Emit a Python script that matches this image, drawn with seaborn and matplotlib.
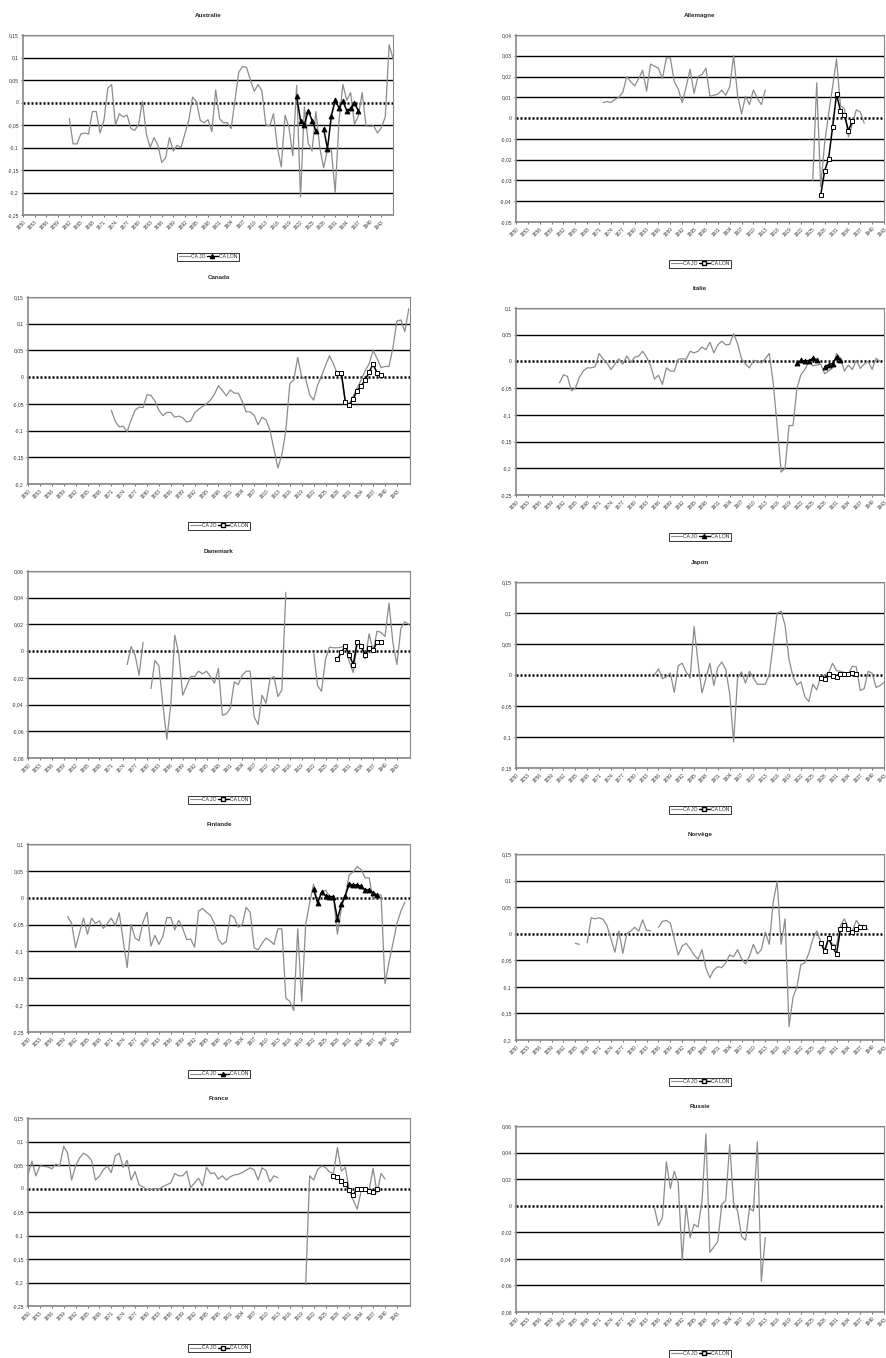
import numpy as np
import pandas as pd
import matplotlib
matplotlib.use("Agg")
import matplotlib.pyplot as plt
import seaborn as sns
from matplotlib.lines import Line2D

N = None

# ---- données (CA JO / CA LON), valeur par année à partir de l'année de départ ----
aus_jo_start = 1862
aus_jo = [-0.035, -0.092, -0.092, -0.07, -0.068, -0.07, -0.02, -0.02, -0.068, -0.04,
          0.032, 0.04, -0.05, -0.025, -0.032, -0.028, -0.058, -0.062, -0.048, 0.003,
          -0.07, -0.1, -0.078, -0.095, -0.133, -0.123, -0.078, -0.108, -0.095, -0.1,
          -0.07, -0.04, 0.012, 0.002, -0.04, -0.045, -0.038, -0.065, 0.028, -0.036,
          -0.045, -0.045, -0.058, 0.005, 0.068, 0.08, 0.078, 0.05, 0.025, 0.04,
          0.025, -0.05, -0.052, -0.025, -0.1, -0.143, -0.028, -0.055, -0.118, 0.038,
          -0.21, -0.01, -0.09, -0.108, -0.02, -0.1, -0.145, -0.105, -0.105, -0.2,
          -0.04, 0.04, 0.005, 0.022, -0.048, -0.03, 0.022, -0.052, -0.053, -0.052,
          -0.068, -0.055, -0.032, 0.128, 0.098]
aus_lon_start = 1921
aus_lon = [0.015, -0.04, -0.05, -0.018, -0.04, -0.063, N, -0.058, -0.103, -0.03,
           0.005, -0.012, 0.003, -0.018, -0.013, -0.002, -0.018]

all_jo_start = 1872
all_jo = [0.0075, 0.008, 0.0075, 0.009, 0.01, 0.0125, 0.02, 0.0175, 0.0155, 0.019,
          0.023, 0.013, 0.026, 0.025, 0.024, 0.019, 0.029, 0.029, 0.0175, 0.014,
          0.0075, 0.015, 0.0235, 0.012, 0.02, 0.021, 0.024, 0.0105, 0.011, 0.0115,
          0.0135, 0.011, 0.015, 0.03, 0.011, 0.002, 0.0105, 0.0065, 0.0135, 0.0095,
          0.0065, 0.0135, N, N, N, N, N, N, N, N, N, N, N,
          -0.03, 0.017, -0.033, -0.012, 0.002, 0.015, 0.0285, 0.006, 0.0045, -0.009,
          -0.003, 0.004, 0.003, -0.0025]
all_lon_start = 1927
all_lon = [-0.037, -0.0255, -0.0195, -0.0045, 0.0115, 0.0035, 0.0015, -0.006, -0.0015]

can_jo_start = 1871
can_jo = [-0.062, -0.083, -0.093, -0.092, -0.102, -0.08, -0.062, -0.056, -0.057, -0.033,
          -0.034, -0.045, -0.062, -0.072, -0.066, -0.066, -0.075, -0.073, -0.076, -0.084,
          -0.082, -0.067, -0.06, -0.055, -0.05, -0.043, -0.032, -0.016, -0.025, -0.035,
          -0.024, -0.03, -0.03, -0.045, -0.065, -0.065, -0.071, -0.089, -0.075, -0.08,
          -0.1, -0.135, -0.17, -0.145, -0.1, -0.012, -0.005, 0.037, 0.0, -0.003,
          -0.033, -0.043, -0.015, 0.002, 0.022, 0.04, 0.025, 0.005, 0.003, -0.045,
          -0.05, -0.035, -0.02, -0.005, 0.012, 0.025, 0.05, 0.035, 0.018, 0.02,
          0.02, 0.055, 0.105, 0.107, 0.085, 0.128]
can_lon_start = 1928
can_lon = [0.008, 0.008, -0.047, -0.053, -0.04, -0.025, -0.016, -0.006, 0.01, 0.024,
           0.008, 0.004]

ita_jo_start = 1861
ita_jo = [-0.04, -0.025, -0.028, -0.055, -0.05, -0.03, -0.018, -0.012, -0.012, -0.01,
          0.015, 0.005, -0.003, -0.015, -0.005, 0.005, -0.005, 0.01, -0.002, 0.008,
          0.01, 0.019, 0.008, -0.008, -0.033, -0.026, -0.043, -0.012, -0.018, -0.018,
          0.004, 0.005, 0.004, 0.019, 0.016, 0.019, 0.027, 0.022, 0.036, 0.016,
          0.031, 0.038, 0.031, 0.032, 0.052, 0.033, 0.005, -0.005, -0.012, 0.002,
          0.001, -0.003, 0.005, 0.015, -0.04, -0.12, -0.207, -0.2, -0.12, -0.12,
          -0.05, -0.025, -0.015, 0.0, -0.008, -0.007, -0.005, -0.023, -0.018, -0.012,
          0.015, 0.005, -0.018, -0.007, -0.015, 0.002, -0.013, -0.005, 0.0, -0.015,
          0.006, 0.0]
ita_lon_start = 1921
ita_lon = [-0.003, 0.002, 0.001, 0.001, 0.006, 0.003, N, -0.01, -0.006, -0.004,
           0.008, 0.003]

dan_jo_start = 1875
dan_jo = [-0.01, 0.0035, -0.003, -0.018, 0.0065, N,
          -0.028, -0.007, -0.011, -0.04, -0.066, -0.04, 0.012, -0.002, -0.033, -0.026,
          -0.019, -0.019, -0.015, -0.017, -0.015, -0.019, -0.024, -0.013, -0.048, -0.047,
          -0.043, -0.023, -0.025, -0.018, -0.015, -0.015, -0.049, -0.055, -0.033, -0.039,
          -0.021, -0.019, -0.034, -0.029, 0.044, N, N, N, N, N, N,
          -0.001, -0.026, -0.03, -0.006, 0.003, 0.0025, 0.0025, 0.003, 0.004, -0.008,
          -0.016, 0.006, 0.004, -0.006, 0.013, 0.0, 0.015, 0.014, 0.011, 0.036,
          0.006, -0.01, 0.017, 0.022, 0.02]
dan_lon_start = 1928
dan_lon = [-0.006, -0.001, 0.004, -0.003, -0.01, 0.007, 0.004, -0.003, 0.002, 0.0005,
           0.007, 0.0065]

jap_jo_start = 1885
jap_jo = [0.0, 0.01, -0.006, -0.003, 0.003, -0.028, 0.015, 0.019, 0.005, -0.005,
          0.078, 0.02, -0.029, -0.005, 0.019, -0.017, 0.012, 0.021, 0.009, -0.03,
          -0.108, -0.005, 0.005, -0.013, 0.006, -0.005, -0.015, -0.015, -0.015, 0.0,
          0.05, 0.1, 0.103, 0.08, 0.025, -0.003, -0.016, -0.011, -0.035, -0.043,
          -0.015, -0.024, -0.003, 0.0, 0.003, 0.019, 0.007, 0.006, 0.004, 0.002,
          0.014, 0.013, -0.025, -0.022, 0.006, 0.003, -0.02, -0.017, -0.012]
jap_lon_start = 1927
jap_lon = [-0.005, -0.006, 0.001, -0.001, -0.003, 0.002, 0.001, 0.001, 0.004, 0.002]

fin_jo_start = 1860
fin_jo = [-0.035, -0.048, -0.093, -0.065, -0.038, -0.068, -0.038, -0.048, -0.043, -0.057,
          -0.048, -0.038, -0.052, -0.028, -0.08, -0.13, -0.05, -0.075, -0.08, -0.045,
          -0.027, -0.09, -0.07, -0.087, -0.072, -0.037, -0.037, -0.06, -0.042, -0.057,
          -0.078, -0.077, -0.092, -0.025, -0.02, -0.027, -0.033, -0.048, -0.078, -0.087,
          -0.081, -0.032, -0.037, -0.055, -0.05, -0.018, -0.027, -0.093, -0.097, -0.085,
          -0.075, -0.08, -0.087, -0.058, -0.058, -0.187, -0.193, -0.21, -0.058, -0.193,
          -0.05, -0.01, 0.025, -0.008, 0.01, 0.014, 0.003, 0.0, -0.068, -0.02,
          0.005, 0.043, 0.048, 0.058, 0.052, 0.037, 0.037, -0.003, 0.005, 0.005,
          -0.16, -0.12, -0.085, -0.048, -0.025, -0.008]
fin_lon_start = 1922
fin_lon = [0.016, -0.01, 0.01, 0.004, 0.002, 0.002, -0.04, -0.012, 0.004, 0.026,
           0.023, 0.024, 0.021, 0.014, 0.015, 0.009, 0.005]

nor_jo_start = 1865
nor_jo = [-0.018, -0.02, N, -0.017, 0.03, 0.028, 0.03, 0.027, 0.015, -0.01,
          -0.035, 0.005, -0.037, 0.0, 0.005, 0.012, 0.005, 0.026, 0.006, 0.006,
          N, 0.012, 0.023, 0.025, 0.02, -0.01, -0.04, -0.023, -0.018, -0.028,
          -0.04, -0.048, -0.03, -0.065, -0.083, -0.068, -0.062, -0.064, -0.055, -0.04,
          -0.043, -0.03, -0.047, -0.057, -0.042, -0.02, -0.038, -0.03, 0.003, -0.02,
          0.06, 0.098, -0.02, 0.028, -0.175, -0.12, -0.1, -0.058, -0.055, -0.037,
          -0.01, 0.005, -0.015, -0.03, -0.01, -0.02, -0.022, 0.015, 0.028, 0.01,
          0.005, 0.025, 0.015, 0.012, 0.008]
nor_lon_start = 1927
nor_lon = [-0.017, -0.033, -0.008, -0.025, -0.038, 0.009, 0.017, 0.009, 0.003, 0.008,
           0.013, 0.012]

fra_jo_start = 1850
fra_jo = [0.03, 0.058, 0.027, 0.048, 0.047, 0.046, 0.042, 0.052, 0.048, 0.09,
          0.075, 0.018, 0.048, 0.065, 0.075, 0.07, 0.06, 0.018, 0.026, 0.04,
          0.048, 0.034, 0.07, 0.075, 0.045, 0.06, 0.018, 0.036, 0.008, 0.003,
          -0.002, -0.002, 0.0, -0.002, 0.004, 0.008, 0.012, 0.032, 0.027, 0.027,
          0.037, 0.002, 0.012, 0.022, 0.005, 0.045, 0.032, 0.033, 0.02, 0.027,
          0.018, 0.025, 0.029, 0.03, 0.034, 0.039, 0.044, 0.04, 0.018, 0.044,
          0.038, 0.014, 0.027, 0.023, N, N, N, N, N, N,
          -0.205, 0.027, 0.018, 0.04, 0.048, 0.045, 0.035, 0.032, 0.087, 0.037,
          0.045, -0.005, -0.025, -0.044, -0.005, -0.002, -0.003, 0.043, -0.01, 0.032,
          0.02]
fra_lon_start = 1927
fra_lon = [0.026, 0.025, 0.016, 0.01, -0.004, -0.014, 0.0, -0.001, -0.002, -0.005,
           -0.008, 0.0]

rus_jo_start = 1885
rus_jo = [-0.002, -0.015, -0.009, 0.033, 0.013, 0.026, 0.017, -0.041, 0.0, -0.024,
          -0.014, -0.016, 0.003, 0.054, -0.035, -0.031, -0.027, 0.001, 0.004, 0.046,
          0.002, -0.004, -0.023, -0.026, -0.002, -0.004, 0.048, -0.057, -0.024]
rus_lon_start = 1927
rus_lon = []


def to_frame(start, values):
    df = pd.DataFrame({"year": np.arange(start, start + len(values)),
                       "value": pd.Series(values, dtype="float")})
    df["seg"] = df["value"].isna().cumsum()
    return df.dropna()


def fmt(v):
    s = ("%.2f" % v).rstrip("0").rstrip(".")
    if s in ("-0", "0"):
        return "0"
    return s.replace(".", ",")


# panneaux : (titre, JO, LON, marqueur, ymin, ymax, pas, rect en pixels, xmax)
panels = [
    ("Australie", (aus_jo_start, aus_jo), (aus_lon_start, aus_lon), "^", -0.25, 0.15, 0.05, (23, 35, 393, 215), 1946),
    ("Allemagne", (all_jo_start, all_jo), (all_lon_start, all_lon), "s", -0.05, 0.04, 0.01, (516, 35, 884, 222), 1943),
    ("Canada", (can_jo_start, can_jo), (can_lon_start, can_lon), "s", -0.2, 0.15, 0.05, (28, 297, 410, 484), 1946.3),
    ("Italie", (ita_jo_start, ita_jo), (ita_lon_start, ita_lon), "^", -0.25, 0.1, 0.05, (516, 308, 884, 495), 1943),
    ("Danemark", (dan_jo_start, dan_jo), (dan_lon_start, dan_lon), "s", -0.08, 0.06, 0.02, (28, 571, 410, 758), 1946.3),
    ("Japon", (jap_jo_start, jap_jo), (jap_lon_start, jap_lon), "s", -0.15, 0.15, 0.05, (516, 582, 884, 768), 1943),
    ("Finlande", (fin_jo_start, fin_jo), (fin_lon_start, fin_lon), "^", -0.25, 0.1, 0.05, (28, 844, 410, 1032), 1946.3),
    ("Norvège", (nor_jo_start, nor_jo), (nor_lon_start, nor_lon), "s", -0.2, 0.15, 0.05, (516, 854, 884, 1040), 1943),
    ("France", (fra_jo_start, fra_jo), (fra_lon_start, fra_lon), "s", -0.25, 0.15, 0.05, (28, 1118, 410, 1306), 1946.3),
    ("Russie", (rus_jo_start, rus_jo), (rus_lon_start, rus_lon), "s", -0.08, 0.06, 0.02, (516, 1126, 884, 1312), 1943),
]

sns.set_style("white")
plt.rcParams['font.family'] = ['Liberation Sans', 'DejaVu Sans']

W, H = 887, 1358
fig = plt.figure(figsize=(W / 100, H / 100), dpi=100)

for title, jo, lon, mk, ymin, ymax, step, (x0, y0, x1, y1), xmax in panels:
    ax = fig.add_axes([x0 / W, 1 - y1 / H, (x1 - x0) / W, (y1 - y0) / H])
    yt = np.round(np.arange(ymin, ymax + step / 2, step), 3)
    for v in yt:
        if abs(v) > 1e-9:
            ax.axhline(v, color="black", lw=1.0, zorder=1)
    ax.axhline(0, color="black", lw=1.8, ls=(0, (0.8, 0.8)), zorder=1)

    df_jo = to_frame(*jo)
    sns.lineplot(data=df_jo, x="year", y="value", units="seg", estimator=None,
                 color="#8c8c8c", lw=0.9, ax=ax, zorder=3)
    if len(lon[1]):
        df_lon = to_frame(*lon)
        sns.lineplot(data=df_lon, x="year", y="value", units="seg", estimator=None,
                     color="black", lw=1.1, marker=mk, markersize=3.5,
                     markerfacecolor="black" if mk == "^" else "white",
                     markeredgecolor="black", markeredgewidth=0.7, ax=ax, zorder=4)

    ax.set_xlim(1850, xmax)
    ax.set_ylim(ymin, ymax)
    ax.set_yticks(yt)
    ax.set_yticklabels([fmt(v) for v in yt], fontsize=3.6)
    xt = np.arange(1850, 1944, 3)
    ax.set_xticks(xt)
    ax.set_xticklabels([str(t) for t in xt], fontsize=3.4, rotation=45, ha="right",
                       rotation_mode="anchor")
    ax.tick_params(length=1.5, width=0.5, pad=1.5, colors="#333333", bottom=True, left=True)
    for s in ax.spines.values():
        s.set_color("#888888")
        s.set_linewidth(0.8)
    ax.spines["left"].set_linewidth(1.2)
    ax.spines["bottom"].set_linewidth(1.2)
    ax.set_xlabel("")
    ax.set_ylabel("")
    ax.set_title(title, fontsize=4.5, fontweight="bold", pad=13)

    handles = [Line2D([], [], color="#8c8c8c", lw=0.8),
               Line2D([], [], color="black", lw=1.0, marker=mk, markersize=3,
                      markerfacecolor="black" if mk == "^" else "white",
                      markeredgecolor="black")]
    leg = ax.legend(handles, ["CA JO", "CA LON"], loc="center",
                    bbox_to_anchor=(0.5, -38 / (y1 - y0) - 0.02), ncol=2, fontsize=3.6,
                    frameon=True, fancybox=False, handlelength=2.2, columnspacing=0.3,
                    handletextpad=0.2, borderpad=0.3)
    leg.get_frame().set_edgecolor("black")
    leg.get_frame().set_linewidth(0.7)

fig.savefig("out.png", dpi=100)
